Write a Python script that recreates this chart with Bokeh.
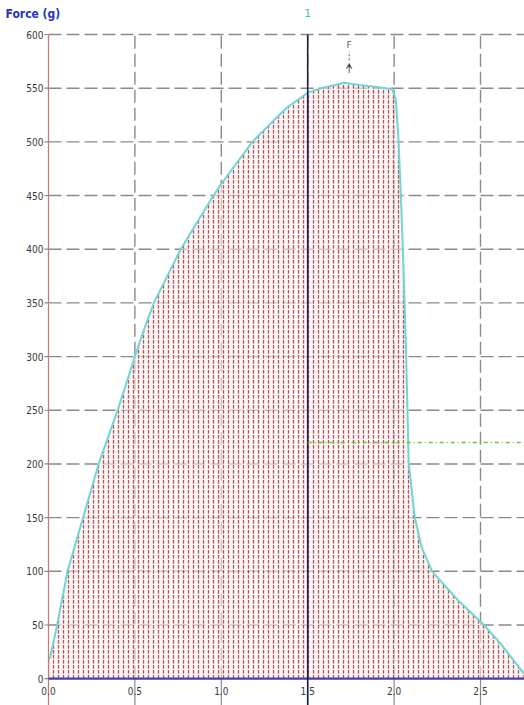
from bokeh.plotting import figure
from bokeh.models import Arrow, VeeHead, ColumnDataSource
from bokeh.core.properties import value
from bokeh.embed import file_html
from bokeh.resources import INLINE

# Force (g) against distance for one test run
dist = [0.0, 0.01, 0.05, 0.11, 0.20, 0.29, 0.40, 0.50, 0.55, 0.61, 0.765, 0.955, 1.0,
        1.18, 1.285, 1.38, 1.46, 1.50, 1.60, 1.66, 1.71, 1.80, 1.90, 1.99, 2.01, 2.025,
        2.04, 2.055, 2.07, 2.085, 2.12, 2.16, 2.22, 2.37, 2.52, 2.62, 2.75]
force = [18, 20, 50, 100, 150, 200, 250, 300, 324, 350, 400, 450, 461,
         500, 517, 532, 541, 546, 551, 553, 555, 553, 551, 549, 539, 504,
         448, 380, 300, 200, 150, 122, 100, 73, 50, 32, 5]

x_ticks = [0.0, 0.5, 1.0, 1.5, 2.0, 2.5]
x_tick_labels = ["0.0", "0.5", "1.0", "1.5", "2.0", "2.5"]
y_ticks = list(range(0, 650, 50))
y_tick_labels = [str(v) for v in y_ticks]

marker_x = 1.5          # cursor "1"
marker_label = "1"
threshold = 220         # dash-dot level from the cursor onwards
peak_x = 1.74           # "F" peak marker
y_max = 600

# the frame covers the whole canvas; axes, labels and titles are drawn as glyphs
PX_X = 172.8            # pixels per distance unit
PX_Y = 1.0736           # pixels per gram
x_start = -48 / PX_X
x_end = x_start + 524 / PX_X
y_top = y_max + 34 / PX_Y
y_floor = y_top - 705 / PX_Y

NARROW = "Liberation Sans Narrow, DejaVu Sans Condensed, sans-serif"
GRID = "#8a8a8a"
LABEL = "#3a3a3a"

p = figure(width=524, height=705, x_range=(x_start, x_end), y_range=(y_floor, y_top),
           output_backend="svg", toolbar_location=None,
           x_axis_location=None, y_axis_location=None,
           min_border_left=0, min_border_right=0, min_border_top=0, min_border_bottom=0)
p.outline_line_color = None
p.background_fill_color = "white"
p.grid.visible = False

n_y = len(y_ticks) - 1
n_x = len(x_ticks) - 1

# horizontal grid
p.segment(x0=[0] * n_y, y0=y_ticks[1:], x1=[x_end] * n_y, y1=y_ticks[1:],
          line_color=GRID, line_width=1.4, line_dash="13 5")
# vertical grid: dashed in the plot, solid through the labels underneath
p.segment(x0=x_ticks[1:], y0=[0] * n_x, x1=x_ticks[1:], y1=[y_max] * n_x,
          line_color=GRID, line_width=1.4, line_dash="13 5")
p.segment(x0=x_ticks[1:], y0=[y_floor] * n_x, x1=x_ticks[1:], y1=[0] * n_x,
          line_color=GRID, line_width=1.2)

src = ColumnDataSource(dict(x=dist, y=force))
p.varea(x="x", y1=0, y2="y", source=src, fill_color="#fbeeee", fill_alpha=0.6,
        hatch_pattern="vertical_dash", hatch_color="#a84444", hatch_scale=5,
        hatch_weight=1.3, hatch_alpha=0.9)
p.line(x="x", y="y", source=src, line_color="#6fd6d6", line_width=2)

# left axis line, ticks and labels
p.line(x=[0, 0], y=[y_floor, y_max], line_color="#c87a7a", line_width=1.3)
p.segment(x0=[-4 / PX_X] * len(y_ticks), y0=y_ticks, x1=[0] * len(y_ticks), y1=y_ticks,
          line_color=GRID, line_width=1.2)
p.text(x=[-5 / PX_X] * len(y_ticks), y=y_ticks, text=y_tick_labels, text_align="right",
       text_baseline="middle", text_font=value(NARROW), text_font_size="10px",
       text_color=LABEL)

# baseline
p.line(x=[0, x_end], y=[0, 0], line_color="#4b3d9e", line_width=2.2)

# cursor line and threshold
p.line(x=[marker_x, marker_x], y=[y_floor, y_max], line_color="#1c1c4c", line_width=1.6)
p.line(x=[marker_x, x_end], y=[threshold, threshold], line_color="#66c83a",
       line_width=1.5, line_dash="4 3 1 3")

# x tick labels under the baseline
p.text(x=x_ticks, y=[-12 / PX_Y] * len(x_ticks), text=x_tick_labels, text_align="center",
       text_baseline="middle", text_font=value(NARROW), text_font_size="10px",
       text_color=LABEL)

# peak marker
p.text(x=[peak_x], y=[590], text=["F"], text_align="center", text_baseline="middle",
       text_font=value("DejaVu Sans"), text_font_size="9px", text_color="#606060")
p.line(x=[peak_x, peak_x], y=[576, 584], line_color="#606060", line_width=1, line_dash="2 2")
p.add_layout(Arrow(x_start=peak_x, y_start=564, x_end=peak_x, y_end=573,
                   line_color="#606060", line_width=1,
                   end=VeeHead(size=5, line_color="#606060", line_width=1)))

# titles
p.text(x=[x_start + 5 / PX_X], y=[y_top - 13 / PX_Y], text=["Force (g)"],
       text_align="left", text_baseline="middle", text_font=value(NARROW),
       text_font_style="bold", text_font_size="12px", text_color="#2234c4")
p.text(x=[marker_x], y=[y_top - 12 / PX_Y], text=[marker_label], text_align="center",
       text_baseline="middle", text_font=value("DejaVu Sans"), text_font_size="11px",
       text_color="#3cc4d0")

open("out.html", "w").write(file_html(p, INLINE))
